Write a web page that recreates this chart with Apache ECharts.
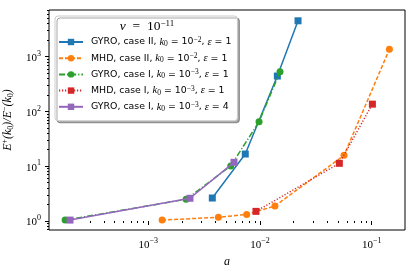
<!DOCTYPE html>
<html><head><meta charset="utf-8">
<script src="https://cdn.jsdelivr.net/npm/echarts@6/dist/echarts.min.js"></script>
<style>html,body{margin:0;padding:0;background:#fff}#c{width:416px;height:273px}</style>
</head><body><div id="c"></div>
<script>
// Data (a, E+/E-)
const gyroII_a = [3.74e-3, 7.38e-3, 0.0143, 0.0219];
const gyroII_r = [2.63, 16.7, 443, 4520];
const mhdII_a = [1.33e-3, 4.24e-3, 7.6e-3, 0.0136, 0.0565, 0.144];
const mhdII_r = [1.04, 1.17, 1.32, 1.88, 15.8, 1360];
const gyroI_a = [1.8e-4, 2.18e-3, 5.47e-3, 9.8e-3, 0.0151];
const gyroI_r = [1.04, 2.49, 10.1, 64.9, 530];
const mhdI_a = [9.2e-3, 0.0513, 0.1014];
const mhdI_r = [1.5, 11.3, 136];
const gyroI4_a = [1.99e-4, 2.36e-3, 5.85e-3];
const gyroI4_r = [1.04, 2.6, 11.8];
const seriesNames = [
  'GYRO, case II, {i|k}{sb|0} = 10{sp|−2}, {i|ε} = 1',
  'MHD, case II, {i|k}{sb|0} = 10{sp|−2}, {i|ε} = 1',
  'GYRO, case I, {i|k}{sb|0} = 10{sp|−3}, {i|ε} = 1',
  'MHD, case I, {i|k}{sb|0} = 10{sp|−3}, {i|ε} = 1',
  'GYRO, case I, {i|k}{sb|0} = 10{sp|−3}, {i|ε} = 4'
];
const xMajor = [-3, -2, -1];
const yMajor = [0, 1, 2, 3];
const xRange = [-3.889, -0.702];
const yRange = [-0.164, 3.852];

const L = Math.log10;
function minorList(lo, hi){
  const out=[];
  for(let n=Math.floor(lo)-1;n<=Math.ceil(hi);n++){
    for(let k=2;k<=9;k++){const v=n+L(k); if(v>=lo&&v<=hi) out.push(v);}
  }
  return out;
}
const pts=(a,r)=>a.map((v,i)=>[L(v),L(r[i])]);
const supFmt = v => '{b|10}{s|' + (v<0?'−'+(-v):String(v)) + '}';
const tickRich = {
  b:{fontFamily:'Liberation Serif',fontSize:11,color:'#000',lineHeight:14,verticalAlign:'bottom'},
  s:{fontFamily:'Liberation Serif',fontSize:8,color:'#000',lineHeight:14,verticalAlign:'top'}
};
const serif='Liberation Serif', sans='DejaVu Sans';
const legRich = {
  i:{fontFamily:serif,fontStyle:'italic',fontSize:10.5,lineHeight:12,color:'#000'},
  sb:{fontFamily:serif,fontSize:7.5,lineHeight:12,verticalAlign:'bottom',color:'#000'},
  sp:{fontFamily:serif,fontSize:7.5,lineHeight:12,verticalAlign:'top',color:'#000'}
};
const colors=['#1f77b4','#ff7f0e','#2ca02c','#d62728','#9467bd'];
const dashes=['solid',[4,2],[6,2,1.2,2],[1.2,1.8],'solid'];
const symbols=['rect','circle','circle','rect','rect'];
const datas=[pts(gyroII_a,gyroII_r),pts(mhdII_a,mhdII_r),pts(gyroI_a,gyroI_r),pts(mhdI_a,mhdI_r),pts(gyroI4_a,gyroI4_r)];

const chart = echarts.init(document.getElementById('c'));
chart.setOption({
  animation:false,
  grid:{left:49,right:11,top:10,bottom:43,show:true,borderColor:'#000',borderWidth:1,backgroundColor:'transparent',outerBoundsMode:'none',containLabel:false},
  title:{text:'{i|ν}\u2002=\u200210{sp|−11}',left:142,textAlign:'center',top:14,
    textStyle:{fontFamily:serif,fontSize:13.5,fontWeight:'normal',color:'#000',
      rich:{i:{fontFamily:serif,fontStyle:'italic',fontSize:13.5,color:'#000'},sp:{fontFamily:serif,fontSize:9,verticalAlign:'top',lineHeight:15,color:'#000'}}}},
  legend:{
    orient:'vertical',left:55,top:16,padding:[20,6,8,3],itemWidth:24,itemHeight:8,itemGap:4.2,
    backgroundColor:'#fff',borderColor:'#cccccc',borderWidth:1,borderRadius:3,
    shadowColor:'rgba(0,0,0,0.35)',shadowOffsetX:2,shadowOffsetY:2,shadowBlur:0,
    textStyle:{fontFamily:sans,fontSize:9.4,lineHeight:12,color:'#000',padding:[0,0,0,3],rich:legRich},
    data:seriesNames
  },
  xAxis:[
    {type:'value',min:xRange[0],max:xRange[1],splitLine:{show:false},
     axisLine:{show:false},axisTick:{show:true,length:4,lineStyle:{color:'#000'},customValues:xMajor},
     axisLabel:{customValues:xMajor,formatter:supFmt,rich:tickRich,margin:7},
     name:'a',nameLocation:'middle',nameGap:18,nameTextStyle:{fontFamily:serif,fontStyle:'italic',fontSize:12,color:'#000'}},
    {type:'value',min:xRange[0],max:xRange[1],splitLine:{show:false},position:'bottom',
     axisLine:{show:false},axisTick:{show:true,length:2,lineStyle:{color:'#000'},customValues:minorList(xRange[0],xRange[1])},
     axisLabel:{show:false}}
  ],
  yAxis:[
    {type:'value',min:yRange[0],max:yRange[1],splitLine:{show:false},
     axisLine:{show:false},axisTick:{show:true,length:4,lineStyle:{color:'#000'},customValues:yMajor},
     axisLabel:{customValues:yMajor,formatter:supFmt,rich:tickRich,margin:8},
     name:'{b|E}{s|+}{b|(}{i|k}{sb|0}{b|)/}{i|E}{s|−}{b|(}{i|k}{sb|0}{b|)}',nameLocation:'middle',nameRotate:90,nameGap:27,
     nameTextStyle:{rich:{
       b:{fontFamily:serif,fontSize:12,lineHeight:14,color:'#000',fontStyle:'italic'},
       i:{fontFamily:serif,fontSize:12,lineHeight:14,color:'#000',fontStyle:'italic'},
       s:{fontFamily:serif,fontSize:8,lineHeight:14,verticalAlign:'top',color:'#000'},
       sb:{fontFamily:serif,fontSize:8,lineHeight:14,verticalAlign:'bottom',color:'#000'}}}},
    {type:'value',min:yRange[0],max:yRange[1],splitLine:{show:false},position:'left',
     axisLine:{show:false},axisTick:{show:true,length:2,lineStyle:{color:'#000'},customValues:minorList(yRange[0],yRange[1])},
     axisLabel:{show:false}}
  ],
  series:seriesNames.map((n,i)=>({
    name:n,type:'line',data:datas[i],xAxisIndex:0,yAxisIndex:0,
    symbol:symbols[i],symbolSize:7,showSymbol:true,
    itemStyle:{color:colors[i]},lineStyle:{color:colors[i],width:1.5,type:dashes[i]},
    z:2+i
  }))
});
</script></body></html>
